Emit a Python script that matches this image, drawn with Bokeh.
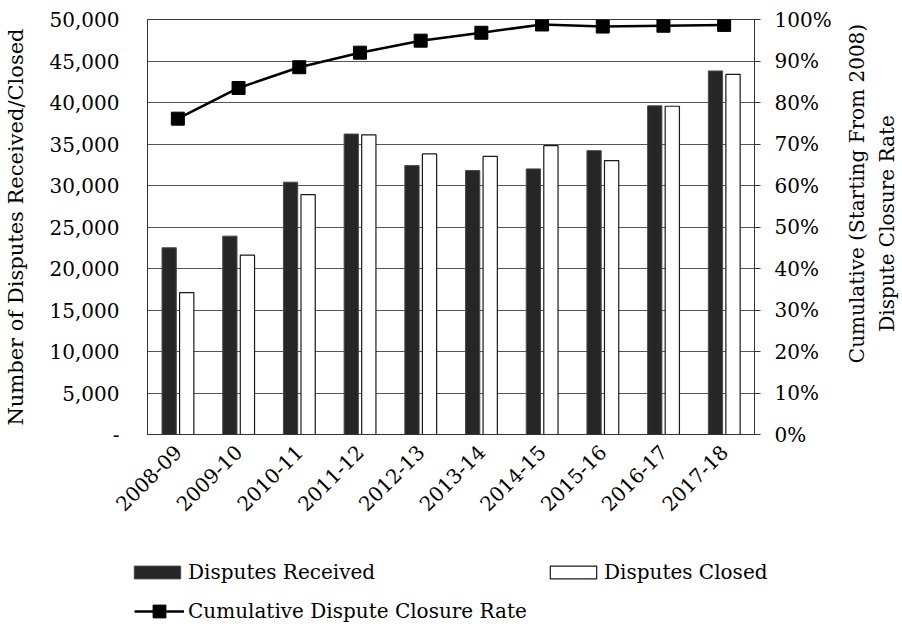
import math
from bokeh.plotting import figure
from bokeh.models import (ColumnDataSource, FactorRange, Range1d, LinearAxis, FixedTicker,
                          NumeralTickFormatter, Legend, LegendItem, Label)
from bokeh.transform import dodge
from bokeh.layouts import row, column
from bokeh.embed import file_html
from bokeh.resources import INLINE

years = ["2008-09", "2009-10", "2010-11", "2011-12", "2012-13",
         "2013-14", "2014-15", "2015-16", "2016-17", "2017-18"]
received = [22500, 23900, 30400, 36200, 32400, 31800, 32000, 34200, 39600, 43800]
closed = [17100, 21600, 28900, 36100, 33800, 33500, 34800, 33000, 39550, 43400]
closure_rate = [0.761, 0.835, 0.885, 0.920, 0.949, 0.968, 0.988, 0.983, 0.985, 0.987]

left_ticks = [0, 5000, 10000, 15000, 20000, 25000, 30000, 35000, 40000, 45000, 50000]
right_ticks = [0, 0.1, 0.2, 0.3, 0.4, 0.5, 0.6, 0.7, 0.8, 0.9, 1.0]

left_title = "Number of Disputes Received/Closed"
right_title_1 = "Cumulative (Starting From 2008)"
right_title_2 = "Dispute Closure Rate"
legend_labels = ["Disputes Received", "Disputes Closed", "Cumulative Dispute Closure Rate"]

FONT = "DejaVu Serif"
TICK_FS = "20px"
TITLE_FS = "21px"

REC_STYLE = dict(fill_color="#262626", line_color="#4a4a4a", line_width=1)
CLO_STYLE = dict(fill_color="white", line_color="#1a1a1a", line_width=1.2)
LINE_STYLE = dict(line_color="black", line_width=2.5)
MARK_STYLE = dict(marker="square", size=13, fill_color="black", line_color="black")

src = ColumnDataSource(dict(year=years, received=received, closed=closed, rate=closure_rate))

# ---------------- main chart ----------------
p = figure(width=838, height=520, x_range=FactorRange(factors=years, range_padding=0),
           y_range=Range1d(0, 50000), output_backend="svg", toolbar_location=None,
           min_border_left=146, min_border_right=84, min_border_top=19, min_border_bottom=86)
p.extra_y_ranges = {"rate": Range1d(0, 1)}
p.outline_line_color = "#333333"
p.outline_line_width = 1

p.xgrid.grid_line_color = None
p.ygrid.ticker = FixedTicker(ticks=left_ticks)
p.ygrid.grid_line_color = "#555555"
p.ygrid.grid_line_width = 1

ya = p.yaxis[0]
ya.ticker = FixedTicker(ticks=left_ticks)
ya.formatter = NumeralTickFormatter(format="0,0")
ya.major_label_overrides = {0: "-"}
ya.axis_label = left_title
ya.axis_label_text_font = FONT
ya.axis_label_text_font_size = TITLE_FS
ya.axis_label_text_font_style = "normal"
ya.axis_label_text_color = "black"
ya.axis_label_standoff = 19
ya.major_label_text_font = FONT
ya.major_label_text_font_size = TICK_FS
ya.major_label_text_color = "black"
ya.major_label_standoff = 28
ya.major_tick_out = 0
ya.major_tick_in = 0
ya.minor_tick_line_color = None
ya.axis_line_color = "#333333"

ra = LinearAxis(y_range_name="rate", ticker=FixedTicker(ticks=right_ticks),
                formatter=NumeralTickFormatter(format="0%"))
ra.major_label_text_font = FONT
ra.major_label_text_font_size = TICK_FS
ra.major_label_text_color = "black"
ra.major_tick_out = 6
ra.major_tick_in = 0
ra.major_tick_line_color = "#333333"
ra.major_label_standoff = 14
ra.minor_tick_line_color = None
ra.axis_line_color = "#333333"
p.add_layout(ra, "right")

xa = p.xaxis[0]
xa.major_label_orientation = math.pi / 4
xa.major_label_text_font = FONT
xa.major_label_text_font_size = TICK_FS
xa.major_label_text_color = "black"
xa.major_label_standoff = 8
xa.major_tick_line_color = None
xa.axis_line_color = "#333333"

p.vbar(x=dodge("year", -0.143, range=p.x_range), top="received", width=0.235, source=src, **REC_STYLE)
p.vbar(x=dodge("year", 0.146, range=p.x_range), top="closed", width=0.235, source=src, **CLO_STYLE)
p.line(x="year", y="rate", y_range_name="rate", source=src, **LINE_STYLE)
p.scatter(x="year", y="rate", y_range_name="rate", source=src, **MARK_STYLE)

# ---------------- right title strip (frame aligns with main frame: 415 px tall) ----------------
pr = figure(width=64, height=520, x_range=Range1d(0, 64), y_range=Range1d(0, 415),
            output_backend="svg", toolbar_location=None, x_axis_location=None, y_axis_location=None,
            min_border_left=0, min_border_right=0, min_border_top=19, min_border_bottom=86)
pr.outline_line_color = None
pr.grid.visible = False
for txt, xv, yv in [(right_title_1, 18, 241), (right_title_2, 48, 211)]:
    pr.add_layout(Label(x=xv, y=yv, text=txt, angle=math.pi / 2,
                        text_align="center", text_baseline="middle", text_font=FONT,
                        text_font_size="20px", text_color="black"))

# ---------------- legend strip (below) ----------------
pl = figure(width=902, height=104, x_range=FactorRange(factors=years), y_range=Range1d(0, 1),
            output_backend="svg", toolbar_location=None, x_axis_location=None, y_axis_location=None,
            min_border=0)
pl.outline_line_color = None
pl.grid.visible = False
lr = pl.vbar(x="year", top="received", width=0.2, source=src, visible=False, **REC_STYLE)
lc = pl.vbar(x="year", top="closed", width=0.2, source=src, visible=False, **CLO_STYLE)
ll = pl.line(x="year", y="rate", source=src, visible=False, **LINE_STYLE)
lm = pl.scatter(x="year", y="rate", source=src, visible=False, **MARK_STYLE)

def mk_legend(fig, item, loc, gw, gh, standoff):
    lg = Legend(items=[item], location=loc, orientation="horizontal",
                border_line_color=None, background_fill_alpha=0, padding=0, margin=0,
                glyph_width=gw, glyph_height=gh, label_height=gh, label_standoff=standoff,
                label_text_font=FONT, label_text_font_size=TICK_FS, label_text_color="black",
                spacing=0, inactive_fill_alpha=0, click_policy="none")
    fig.add_layout(lg, "center")

mk_legend(pl, LegendItem(label=legend_labels[0], renderers=[lr]), (128, 40), 58, 16, 2)
mk_legend(pl, LegendItem(label=legend_labels[1], renderers=[lc]), (544, 40), 58, 16, 2)
mk_legend(pl, LegendItem(label=legend_labels[2], renderers=[ll, lm]), (134, -3), 50, 32, 4)

layout = column(row(p, pr), pl)
open("out.html", "w").write(file_html(layout, INLINE))
